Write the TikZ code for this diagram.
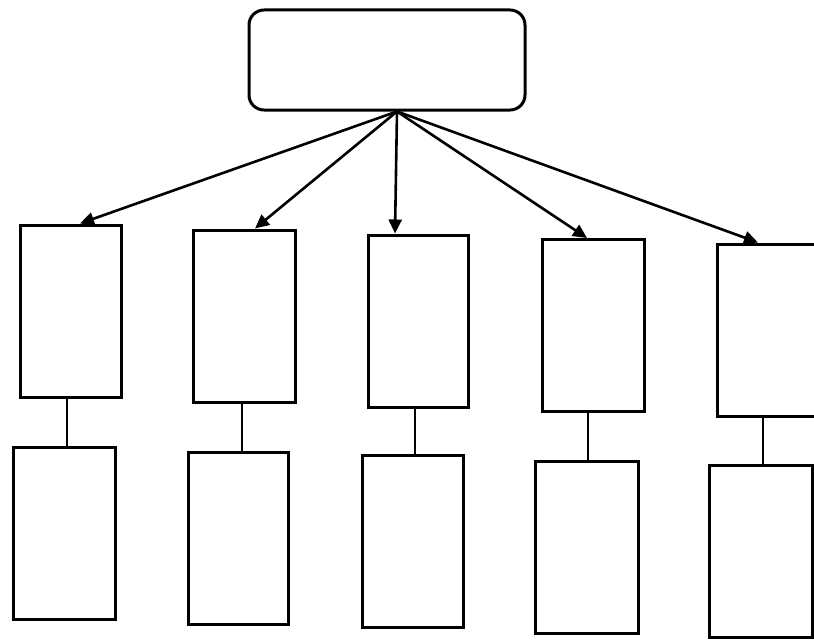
\documentclass[tikz,border=0pt]{standalone}
\usetikzlibrary{arrows.meta}
\begin{document}
\begin{tikzpicture}[x=1pt,y=-1pt,
  box/.style={draw, line width=3pt, inner sep=0pt, minimum width=#1, minimum height=172pt},
  topbox/.style={draw, line width=3pt, rounded corners=15pt, inner sep=0pt, minimum width=276pt, minimum height=100pt},
  arr/.style={line width=2.6pt, -{Triangle[length=14pt,width=13pt]}},
  link/.style={line width=2.6pt}]
\useasboundingbox[fill=white] (0,0) rectangle (814,642);
\node[topbox] (top) at (387,60) {};
\coordinate (src) at ([xshift=10pt]top.south);
% first row
\node[box=101pt] (b1) at (70.5,311) {};
\node[box=102pt] (b2) at (244,316) {};
\node[box=100pt] (b3) at (418,321) {};
\node[box=102pt] (b4) at (593,325.5) {};
\node[box=101pt] (b5) at (767.5,330) {};
% second row
\node[box=102pt] (c1) at (64,533.5) {};
\node[box=100pt] (c2) at (238,538) {};
\node[box=101pt] (c3) at (412.5,541.5) {};
\node[box=103pt] (c4) at (586.5,547) {};
\node[box=103pt] (c5) at (760.5,551) {};
% arrows
\draw[arr] (src) -- ([xshift=9.5pt]b1.north);
\draw[arr] (src) -- ([xshift=11pt]b2.north);
\draw[arr] (src) -- ([xshift=-23pt]b3.north);
\draw[arr] (src) -- ([xshift=-6pt]b4.north);
\draw[arr] (src) -- ([xshift=-9.5pt]b5.north);
% links
\draw[link] ([xshift=-3.5pt]b1.south) -- ([xshift=3pt]c1.north);
\draw[link] ([xshift=-2pt]b2.south) -- ([xshift=4pt]c2.north);
\draw[link] ([xshift=-3pt]b3.south) -- ([xshift=2.5pt]c3.north);
\draw[link] ([xshift=-5pt]b4.south) -- ([xshift=1.5pt]c4.north);
\draw[link] ([xshift=-4.5pt]b5.south) -- ([xshift=2.5pt]c5.north);
\end{tikzpicture}
\end{document}
